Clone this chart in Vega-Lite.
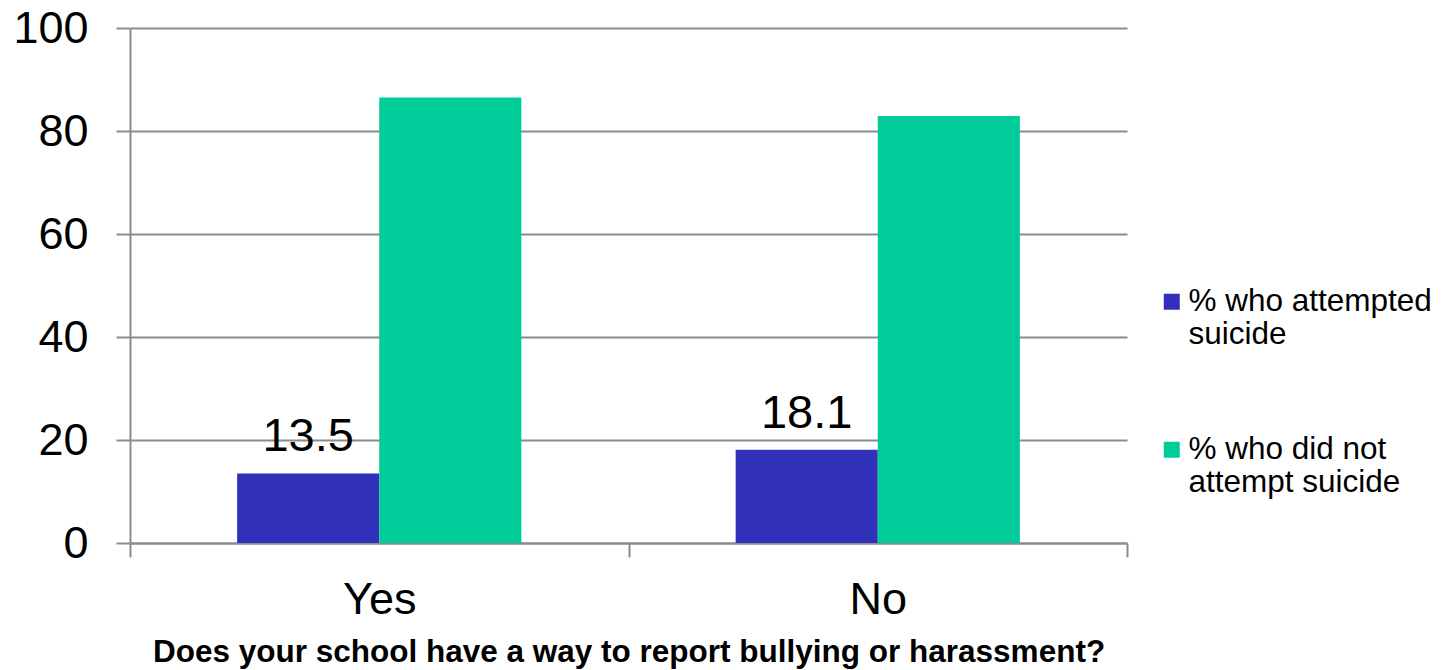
{
  "$schema": "https://vega.github.io/schema/vega-lite/v6.json",
  "autosize": "none",
  "width": 997,
  "height": 515,
  "padding": {"left": 130, "top": 28, "right": 314, "bottom": 127},
  "background": "white",
  "config": {
    "view": {"stroke": null},
    "font": "Liberation Sans",
    "axis": {"domainColor": "#8c8c8c", "tickColor": "#8c8c8c", "gridColor": "#8c8c8c", "domainWidth": 2, "tickWidth": 2, "gridWidth": 2, "labelColor": "black", "titleColor": "black"}
  },
  "data": {
    "values": [
      {"answer": "Yes", "series": "% who attempted suicide", "value": 13.5},
      {"answer": "Yes", "series": "% who did not attempt suicide", "value": 86.5},
      {"answer": "No", "series": "% who attempted suicide", "value": 18.1},
      {"answer": "No", "series": "% who did not attempt suicide", "value": 82.9}
    ]
  },
  "encoding": {
    "x": {
      "field": "answer",
      "type": "nominal",
      "sort": ["Yes", "No"],
      "scale": {"paddingInner": 0, "paddingOuter": 0},
      "axis": {
        "title": "Does your school have a way to report bullying or harassment?",
        "titleFont": "Liberation Sans",
        "titleFontSize": 31.5,
        "titleFontWeight": "bold",
        "titlePadding": 14,
        "labelAngle": 0,
        "labelFontSize": 45,
        "labelPadding": 20,
        "tickBand": "extent",
        "tickSize": 14,
        "grid": false
      }
    },
    "xOffset": {"field": "series", "type": "nominal", "scale": {"paddingInner": 0, "paddingOuter": 0.754}},
    "y": {
      "field": "value",
      "type": "quantitative",
      "scale": {"domain": [0, 100]},
      "axis": {
        "title": null,
        "values": [0, 20, 40, 60, 80, 100],
        "labelFontSize": 45,
        "labelPadding": 28,
        "tickSize": 14,
        "grid": true
      }
    }
  },
  "layer": [
    {
      "mark": {"type": "bar"},
      "encoding": {
        "color": {
          "field": "series",
          "type": "nominal",
          "scale": {"domain": ["% who attempted suicide", "% who did not attempt suicide"], "range": ["#3030B8", "#00CC99"]},
          "legend": {
            "title": null,
            "orient": "none",
            "legendX": 1026,
            "legendY": 258,
            "symbolType": "square",
            "symbolSize": 256,
            "symbolStrokeWidth": 0,
            "labelFontSize": 31.5,
            "labelColor": "black",
            "labelOffset": 1,
            "labelLimit": 400,
            "labelExpr": "datum.label == '% who attempted suicide' ? ['% who attempted', 'suicide'] : ['% who did not', 'attempt suicide']",
            "rowPadding": 82
          }
        }
      }
    },
    {
      "transform": [{"filter": "datum.series == '% who attempted suicide'"}],
      "mark": {"type": "text", "fontSize": 47, "baseline": "alphabetic", "dy": -22, "color": "black"},
      "encoding": {"text": {"field": "value", "type": "quantitative", "format": ".1f"}}
    }
  ]
}
